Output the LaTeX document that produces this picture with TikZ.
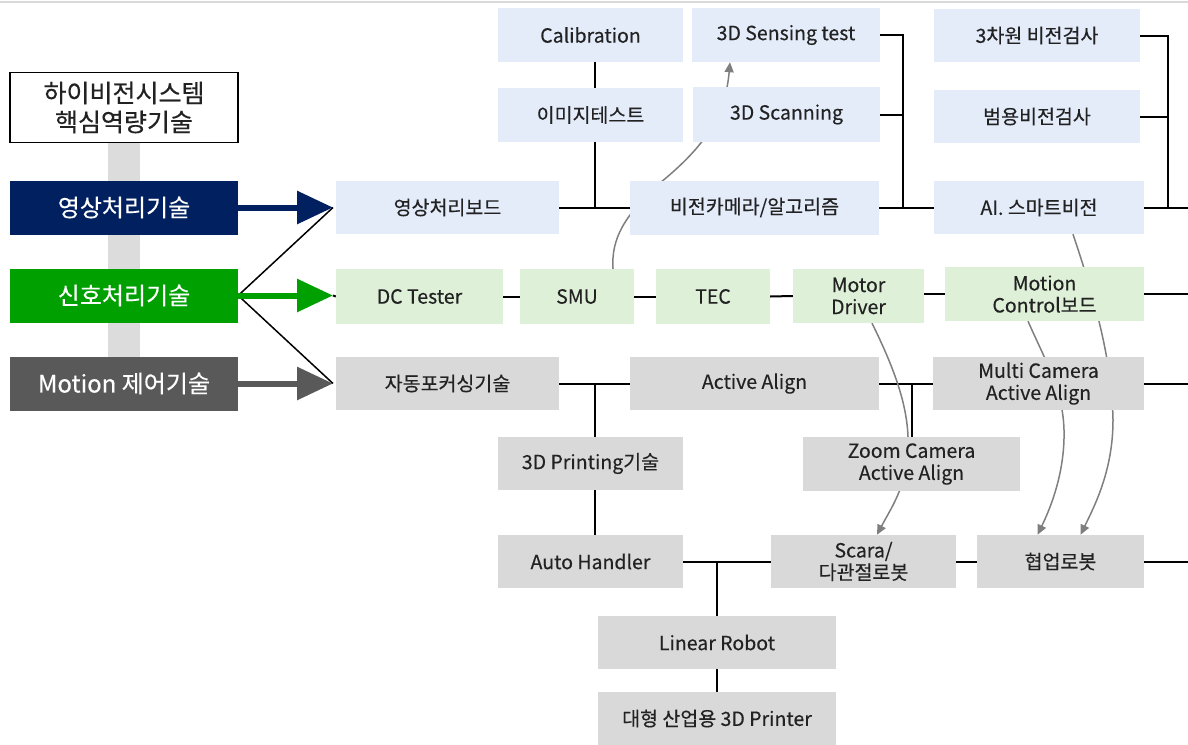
\documentclass[tikz,border=0pt]{standalone}
\usepackage{fontspec}
\setmainfont{Noto Sans CJK KR}[FakeBold=0.35]
\usetikzlibrary{arrows.meta,backgrounds}
\definecolor{navy}{HTML}{002060}
\definecolor{sgreen}{HTML}{00A000}
\definecolor{dgray}{HTML}{595959}
\definecolor{lblue}{HTML}{E4ECFA}
\definecolor{lgreen}{HTML}{DEF0D8}
\definecolor{lgray}{HTML}{D9D9D9}
\definecolor{band}{HTML}{DCDCDC}
\definecolor{cgray}{HTML}{7F7F7F}
\definecolor{txt}{HTML}{222222}
\begin{document}
\begin{tikzpicture}[x=1pt,y=-1pt,
  box/.style={inner sep=0pt, align=center, font=\fontsize{19.5}{22}\selectfont, text=txt},
  bbox/.style={box, fill=lblue},
  gbox/.style={box, fill=lgreen},
  ybox/.style={box, fill=lgray},
  lbox/.style={inner sep=0pt, align=center, font=\fontsize{24}{28}\selectfont, text=white, minimum width=228pt, minimum height=54pt},
  conn/.style={draw=black, line width=2pt},
  curv/.style={draw=cgray, line width=1.5pt},
  carrow/.style={curv, -{Triangle[length=10pt,width=9pt]}},
  bigarrow/.style={line width=6pt, -{Triangle[length=36pt,width=32pt]}}]
\useasboundingbox (0,0) rectangle (1188,744);
\draw[draw=lgray, line width=2pt] (0,2) -- (1188,2);
% gray band
\fill[band] (108,142) rectangle (140,357);
% left column
\node[inner sep=0pt, draw=black, line width=1.5pt, fill=white, minimum width=228pt, minimum height=70pt, align=center, font=\fontsize{25}{29}\selectfont, text=txt] (title) at (124,107.5) {하이비전시스템\\핵심역량기술};
\node[lbox, fill=navy] (img) at (124,207.5) {영상처리기술};
\node[lbox, fill=sgreen] (sig) at (124,295.5) {신호처리기술};
\node[lbox, fill=dgray] (mot) at (124,383.5) {Motion 제어기술};
% top blue
\node[bbox, minimum width=185pt, minimum height=54pt] (calib) at (590.5,35) {Calibration};
\node[bbox, minimum width=188pt, minimum height=54pt] (sens) at (786,35) {3D Sensing test};
\node[bbox, minimum width=185pt, minimum height=54pt] (imgt) at (590.5,115) {이미지테스트};
\node[bbox, minimum width=187pt, minimum height=55pt] (scan) at (786.5,114.5) {3D Scanning};
\node[bbox, minimum width=206pt, minimum height=53pt] (v3d) at (1037,35.5) {3차원 비전검사};
\node[bbox, minimum width=206pt, minimum height=53pt] (gen) at (1037,116.5) {범용비전검사};
\node[bbox, minimum width=223pt, minimum height=53pt] (board) at (447.5,207.5) {영상처리보드};
\node[bbox, minimum width=249pt, minimum height=54pt] (vca) at (754.5,207.5) {비전카메라/알고리즘};
\node[bbox, minimum width=210pt, minimum height=53pt] (ai) at (1039,207.5) {AI. 스마트비전};
% green row
\node[gbox, minimum width=167pt, minimum height=55pt] (dc) at (419.5,296.5) {DC Tester};
\node[gbox, minimum width=114pt, minimum height=55pt] (smu) at (577,296.5) {SMU};
\node[gbox, minimum width=114pt, minimum height=55pt] (tec) at (713,296.5) {TEC};
\node[gbox, minimum width=131pt, minimum height=54pt] (md) at (858.5,296) {Motor\\Driver};
\node[gbox, minimum width=199pt, minimum height=54pt] (mc) at (1044.5,294) {Motion\\Control보드};
% gray rows
\node[ybox, minimum width=223pt, minimum height=53pt] (af) at (447.5,383.5) {자동포커싱기술};
\node[ybox, minimum width=249pt, minimum height=53pt] (aa) at (754.5,383.5) {Active Align};
\node[ybox, minimum width=211pt, minimum height=53pt] (mca) at (1038.5,383.5) {Multi Camera\\Active Align};
\node[ybox, minimum width=185pt, minimum height=53pt] (p3d) at (590.5,463.5) {3D Printing기술};
\node[ybox, minimum width=217pt, minimum height=54pt] (zca) at (911.5,464) {Zoom Camera\\Active Align};
\node[ybox, minimum width=185pt, minimum height=53pt] (ah) at (590.5,561.5) {Auto Handler};
\node[ybox, minimum width=185pt, minimum height=53pt] (scara) at (863.5,561.5) {Scara/\\다관절로봇};
\node[ybox, minimum width=167pt, minimum height=53pt] (cobot) at (1060.5,561.5) {협업로봇};
\node[ybox, minimum width=238pt, minimum height=53pt] (lr) at (717,642.5) {Linear Robot};
\node[ybox, minimum width=238pt, minimum height=53pt] (prn) at (717,718.5) {대형 산업용 3D Printer};
% free ends
\coordinate (b1) at (903,207.5);
\coordinate (b2) at (1168,207.5);
\coordinate (eai) at (1188,207.5);
\coordinate (emc) at (1188,294);
\coordinate (emca) at (1188,383.5);
\coordinate (ecob) at (1188,561.5);
\coordinate (t1) at (333,207.5);
\coordinate (t2) at (333,295.5);
\coordinate (t3) at (333,383.5);
\begin{scope}[on background layer]
% blue connectors
\draw[conn] ([xshift=4pt]calib.south) |- (board.east);
\draw[conn] (board.east) -- (vca.west);
\draw[conn] (sens.east) -| (b1);
\draw[conn] (scan.east) -- (scan.east -| b1);
\draw[conn] (vca.east) -- (ai.west);
\draw[conn] (v3d.east) -| (b2);
\draw[conn] (gen.east) -- (gen.east -| b2);
\draw[conn] (ai.east) -- (eai);
% green connectors
\draw[conn] (t2) -- (dc.west);
\draw[conn] (dc.east) -- (smu.west);
\draw[conn] (smu.east) -- (tec.west);
\draw[conn] (tec.east) -- (md.west);
\draw[conn] (md.east |- mc.west) -- (mc.west);
\draw[conn] (mc.east) -- (emc);
% gray connectors
\draw[conn] (af.east) -- (aa.west);
\draw[conn] ([xshift=4pt]p3d.north) -- ([xshift=4pt]p3d.north |- af.east);
\draw[conn] ([xshift=4pt]p3d.south) -- ([xshift=4pt]ah.north);
\draw[conn] (aa.east) -- (mca.west);
\draw[conn] (zca.north) -- (zca.north |- aa.east);
\draw[conn] (mca.east) -- (emca);
\draw[conn] (ah.east) -- (scara.west);
\draw[conn] (lr.north) -- (lr.north |- ah.east);
\draw[conn] (lr.south) -- (prn.north);
\draw[conn] (scara.east) -- (cobot.west);
\draw[conn] (cobot.east) -- (ecob);
% fan lines from signal box
\draw[draw=black, line width=1.5pt] (sig.east) -- (t1);
\draw[draw=black, line width=1.5pt] (sig.east) -- (t3);
% curved gray arrows
\draw[carrow] ([xshift=36pt]smu.north) .. controls (611,238) and (625,215) .. (660,183)
   .. controls (700,150) and (725,120) .. ([xshift=-56pt]sens.south);
\draw[carrow] ([xshift=13.5pt]md.south) .. controls (900,380) and (912,420) .. (907,460)
   .. controls (904,490) and (890,510) .. ([xshift=13.5pt]scara.north);
\draw[carrow] ([xshift=34pt]ai.south) .. controls (1095,300) and (1112,360) .. (1113,420)
   .. controls (1113,470) and (1095,505) .. ([xshift=20pt]cobot.north);
\draw[carrow] ([xshift=-16.5pt]mc.south) .. controls (1045,360) and (1063,390) .. (1064,430)
   .. controls (1065,470) and (1052,505) .. ([xshift=-23pt]cobot.north);
\end{scope}
% big arrows
\draw[bigarrow, navy] (img.east) -- (t1);
\draw[bigarrow, sgreen] (sig.east) -- (t2);
\draw[bigarrow, dgray] (mot.east) -- (t3);
\end{tikzpicture}
\end{document}
